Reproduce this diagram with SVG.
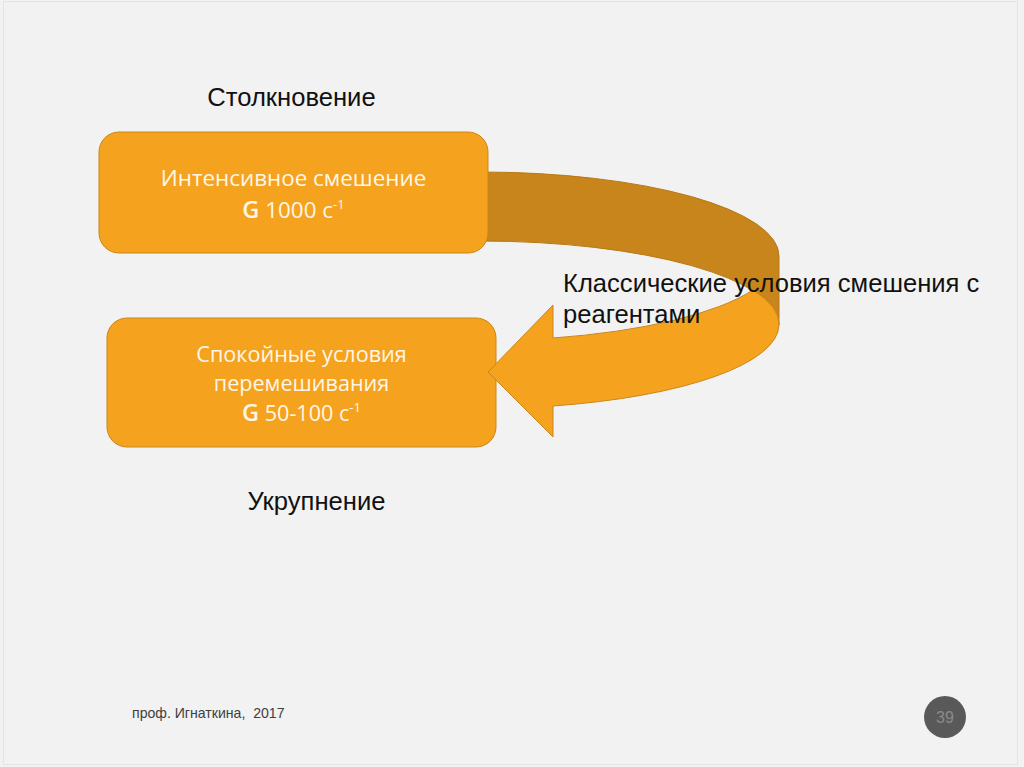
<svg xmlns="http://www.w3.org/2000/svg" width="1024" height="767" viewBox="0 0 1024 767">
<style>
.box{fill:#f5a31f;stroke:#c9861a;stroke-width:1}
.bt{font-family:"Open Sans",Lato,sans-serif;font-size:22.4px;fill:#fff6e8;text-anchor:middle}
.bt2{font-size:21.6px}
.g{font-size:23.5px;font-weight:600}
.lbl{font-family:"Liberation Sans",Arial,sans-serif;font-size:25.6px;fill:#111}
</style>
<rect x="0" y="0" width="1024" height="767" fill="#f2f2f2"/>
<rect x="3.5" y="1.5" width="1014" height="763" fill="none" stroke="#e4e4e4" stroke-width="1"/>

<g id="node-calm">
<rect class="box" x="107" y="318" width="389" height="129" rx="20"/>
<text class="bt bt2" x="301.5" y="361.5">Спокойные условия</text>
<text class="bt bt2" x="301.5" y="391">перемешивания</text>
<text class="bt bt2" x="301.5" y="420.5"><tspan class="g">G</tspan> 50-100 с<tspan font-size="13" dy="-9">-1</tspan></text>
</g>

<g id="connectors">
<path d="M480,172 A299,84 0 0 1 779,256 L779,325 A299,84 0 0 0 480,241 Z" fill="#c8851b" stroke="#b87816" stroke-width="1"/>
<path d="M553,338 A299,84 0 0 0 753,290 A299,84 0 0 1 779,325 A299,84 0 0 1 553,406 L553,437 L488,372 L553,305 Z" fill="#f5a31f" stroke="#c9861a" stroke-width="1" stroke-linejoin="miter"/>
</g>

<g id="node-intense">
<rect class="box" x="99" y="132" width="389" height="121" rx="20"/>
<text class="bt" x="293.5" y="186">Интенсивное смешение</text>
<text class="bt" x="293.5" y="218"><tspan class="g">G</tspan> 1000 с<tspan font-size="13" dy="-9">-1</tspan></text>
</g>

<g id="labels">
<text class="lbl" x="291.5" y="106" text-anchor="middle">Столкновение</text>
<text class="lbl" x="316.5" y="510" text-anchor="middle">Укрупнение</text>
<text class="lbl" x="563" y="292">Классические условия смешения с</text>
<text class="lbl" x="563" y="323">реагентами</text>
</g>

<g id="footer">
<text x="132" y="718" font-family="'Liberation Sans',Arial,sans-serif" font-size="14.1" fill="#404040">проф. Игнаткина, &#160;2017</text>
<circle cx="945" cy="717" r="21" fill="#595959"/>
<text x="945" y="723" font-family="'Liberation Sans',Arial,sans-serif" font-size="16" fill="#8a8a8a" text-anchor="middle">39</text>
</g>
</svg>
